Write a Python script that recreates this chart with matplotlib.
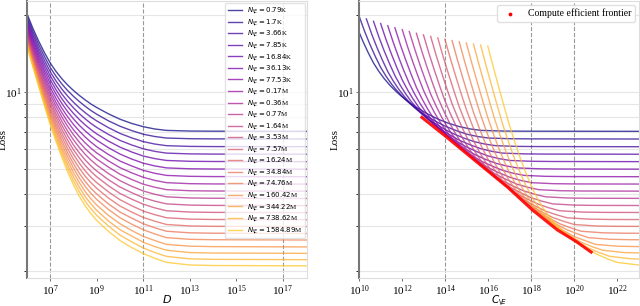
import numpy as np
import matplotlib.pyplot as plt

# model sizes shown in the legend
n_labels = ["0.79K", "1.7K", "3.66K", "7.85K", "16.84K", "36.13K", "77.53K",
            "0.17M", "0.36M", "0.77M", "1.64M", "3.53M", "7.57M", "16.24M",
            "34.84M", "74.76M", "160.42M", "344.22M", "738.62M", "1584.89M"]
n_params = [0.79e3, 1.7e3, 3.66e3, 7.85e3, 16.84e3, 36.13e3, 77.53e3,
            0.17e6, 0.36e6, 0.77e6, 1.64e6, 3.53e6, 7.57e6, 16.24e6,
            34.84e6, 74.76e6, 160.42e6, 344.22e6, 738.62e6, 1584.89e6]

d_tokens = [1e6, 1.78e6, 3.16e6, 5.62e6, 1e7, 1.78e7, 3.16e7, 5.62e7,
            1e8, 1.78e8, 3.16e8, 5.62e8, 1e9, 3.16e9, 1e10, 3.16e10,
            1e11, 3.16e11, 1e12, 1e13, 1e14, 1e20]

# loss per model size (one row per N), read at d_tokens
loss_rows = [
    [20.25, 17.78, 15.85, 14.28, 13.00, 12.05, 11.29, 10.67, 10.16, 9.72, 9.34, 9.00, 8.72, 8.24, 7.85, 7.56, 7.34, 7.19, 7.10, 7.06, 7.05, 7.04],
    [19.77, 17.30, 15.36, 13.79, 12.49, 11.54, 10.77, 10.15, 9.64, 9.20, 8.82, 8.49, 8.21, 7.74, 7.37, 7.09, 6.86, 6.72, 6.63, 6.59, 6.58, 6.57],
    [19.33, 16.84, 14.90, 13.32, 12.02, 11.06, 10.29, 9.66, 9.14, 8.70, 8.33, 8.00, 7.73, 7.28, 6.91, 6.64, 6.42, 6.28, 6.19, 6.15, 6.14, 6.13],
    [18.92, 16.43, 14.48, 12.90, 11.59, 10.62, 9.84, 9.21, 8.69, 8.25, 7.88, 7.56, 7.29, 6.85, 6.49, 6.23, 6.02, 5.88, 5.79, 5.75, 5.74, 5.73],
    [18.54, 16.05, 14.10, 12.50, 11.19, 10.22, 9.43, 8.79, 8.27, 7.83, 7.46, 7.15, 6.88, 6.45, 6.11, 5.85, 5.64, 5.51, 5.42, 5.38, 5.37, 5.36],
    [18.18, 15.69, 13.73, 12.12, 10.81, 9.83, 9.04, 8.40, 7.87, 7.43, 7.07, 6.76, 6.50, 6.08, 5.74, 5.49, 5.29, 5.16, 5.07, 5.03, 5.02, 5.01],
    [17.85, 15.34, 13.38, 11.77, 10.44, 9.46, 8.66, 8.02, 7.49, 7.06, 6.69, 6.39, 6.13, 5.72, 5.39, 5.16, 4.96, 4.83, 4.74, 4.70, 4.69, 4.68],
    [17.54, 15.03, 13.06, 11.44, 10.11, 9.12, 8.32, 7.67, 7.14, 6.71, 6.35, 6.05, 5.80, 5.40, 5.08, 4.85, 4.66, 4.53, 4.44, 4.40, 4.39, 4.38],
    [17.26, 14.75, 12.77, 11.15, 9.81, 8.82, 8.01, 7.36, 6.83, 6.39, 6.03, 5.74, 5.49, 5.11, 4.79, 4.57, 4.38, 4.26, 4.17, 4.13, 4.12, 4.11],
    [16.99, 14.47, 12.49, 10.86, 9.52, 8.52, 7.71, 7.05, 6.52, 6.09, 5.73, 5.44, 5.20, 4.82, 4.52, 4.30, 4.12, 4.00, 3.91, 3.87, 3.86, 3.85],
    [16.74, 14.22, 12.24, 10.60, 9.25, 8.24, 7.43, 6.77, 6.23, 5.80, 5.45, 5.16, 4.93, 4.56, 4.27, 4.06, 3.88, 3.76, 3.67, 3.63, 3.62, 3.61],
    [16.52, 13.99, 12.00, 10.35, 9.00, 7.99, 7.17, 6.50, 5.97, 5.54, 5.19, 4.91, 4.68, 4.32, 4.03, 3.83, 3.66, 3.54, 3.45, 3.41, 3.40, 3.39],
    [16.30, 13.76, 11.77, 10.12, 8.76, 7.74, 6.92, 6.25, 5.72, 5.29, 4.94, 4.66, 4.44, 4.09, 3.81, 3.61, 3.44, 3.33, 3.24, 3.20, 3.19, 3.18],
    [16.10, 13.56, 11.56, 9.90, 8.54, 7.51, 6.69, 6.02, 5.48, 5.06, 4.71, 4.44, 4.22, 3.87, 3.60, 3.41, 3.25, 3.14, 3.05, 3.01, 3.00, 2.99],
    [15.91, 13.37, 11.36, 9.69, 8.33, 7.30, 6.47, 5.80, 5.26, 4.83, 4.49, 4.22, 4.01, 3.67, 3.41, 3.23, 3.07, 2.96, 2.87, 2.83, 2.82, 2.81],
    [15.74, 13.20, 11.18, 9.51, 8.14, 7.10, 6.27, 5.60, 5.06, 4.63, 4.30, 4.03, 3.82, 3.49, 3.24, 3.06, 2.91, 2.80, 2.71, 2.67, 2.66, 2.65],
    [15.58, 13.02, 11.01, 9.32, 7.95, 6.91, 6.07, 5.40, 4.86, 4.44, 4.10, 3.84, 3.63, 3.31, 3.07, 2.89, 2.74, 2.64, 2.55, 2.51, 2.50, 2.49],
    [15.43, 12.87, 10.85, 9.16, 7.78, 6.73, 5.90, 5.21, 4.68, 4.26, 3.92, 3.67, 3.46, 3.15, 2.91, 2.75, 2.60, 2.50, 2.42, 2.37, 2.36, 2.35],
    [15.29, 12.73, 10.70, 9.01, 7.62, 6.57, 5.73, 5.05, 4.51, 4.09, 3.76, 3.51, 3.31, 3.01, 2.77, 2.61, 2.47, 2.37, 2.29, 2.24, 2.23, 2.22],
    [15.16, 12.60, 10.56, 8.86, 7.47, 6.42, 5.57, 4.89, 4.35, 3.93, 3.61, 3.36, 3.16, 2.87, 2.64, 2.48, 2.35, 2.25, 2.17, 2.12, 2.11, 2.10],
]

# compute efficient frontier (C, loss)
front_c = [8.3e12, 1e14, 1.23e15, 7.76e16, 1.15e18, 1.66e19, 1.2e20, 6e20]
front_loss = [7.98, 6.76, 5.68, 4.27, 3.47, 2.90, 2.62, 2.38]

plt.rcParams['font.family'] = 'Liberation Serif'
plt.rcParams['mathtext.fontset'] = 'dejavusans'

fig = plt.figure(figsize=(6.4, 3.06), dpi=100)
ax1 = fig.add_axes([27/640, 28/306, 280/640, 277/306])
ax2 = fig.add_axes([359/640, 28/306, 280/640, 277/306])

colors = plt.cm.plasma(np.linspace(0.0, 0.88, len(n_params)))
d_arr = np.array(d_tokens)

for i, n in enumerate(n_params):
    lab = r"$N_{\backslash E} = " + n_labels[i][:-1] + "$" + n_labels[i][-1]
    ax1.plot(d_arr, loss_rows[i], color=colors[i], lw=1.0, alpha=0.75, label=lab)
    # compute C = 6 N D
    ax2.plot(6 * n * d_arr, loss_rows[i], color=colors[i], lw=1.0, alpha=0.75)

ax2.plot(front_c, front_loss, color='red', lw=2.2, alpha=0.9, zorder=5)
ax2.scatter([], [], s=3, color='red', label="Compute efficient frontier")


def style(ax, xlim, xticks, vlines):
    ax.set_xscale('log')
    ax.set_yscale('log')
    ax.set_xlim(*xlim)
    ax.set_ylim(1.886, 22.7)
    ax.set_xticks(xticks)
    ax.xaxis.set_minor_locator(plt.NullLocator())
    ax.set_yticks([10])
    ax.set_yticks([2, 3, 4, 5, 6, 7, 8, 9, 20], minor=True)
    ax.yaxis.set_minor_formatter(plt.NullFormatter())
    ax.grid(True, axis='y', which='both', color='#e6e6e6', lw=0.8)
    for v in vlines:
        ax.axvline(v, color='#999999', ls='--', lw=0.8, zorder=0.5)
    ax.tick_params(labelsize=8, length=2.5, width=0.6, color='#555555', pad=1.2)
    ax.tick_params(which='minor', length=2, width=0.6)
    for s in ['top', 'right', 'bottom']:
        ax.spines[s].set_color('#dddddd')
        ax.spines[s].set_linewidth(0.8)
    ax.spines['left'].set_color('#777777')
    ax.spines['left'].set_linewidth(1.5)
    ax.set_ylabel("Loss", fontsize=8)
    ax.yaxis.set_label_coords(-0.068, 0.5)


style(ax1, (1e6, 1.1e18), [1e7, 1e9, 1e11, 1e13, 1e15, 1e17], [1e7, 1e11, 1e17])
style(ax2, (1e10, 1e23), [1e10, 1e12, 1e14, 1e16, 1e18, 1e20, 1e22], [1e14, 1e18, 1e20])
ax1.set_xlabel("$D$", fontsize=8)
ax2.set_xlabel(r"$C_{\backslash E}$", fontsize=7.5)
ax1.xaxis.set_label_coords(0.5, -0.054)
ax2.xaxis.set_label_coords(0.5, -0.058)

ax1.legend(loc='upper right', fontsize=5.0, labelspacing=0.15, handlelength=2.1,
           handletextpad=0.6, borderaxespad=0.3, borderpad=0.4, framealpha=0.8,
           edgecolor='#dddddd', fancybox=True)
ax2.legend(loc='upper right', fontsize=7, scatterpoints=1, handletextpad=0.8,
           borderaxespad=0.4, framealpha=0.9, edgecolor='#dddddd')

fig.savefig("out.png", dpi=100)
